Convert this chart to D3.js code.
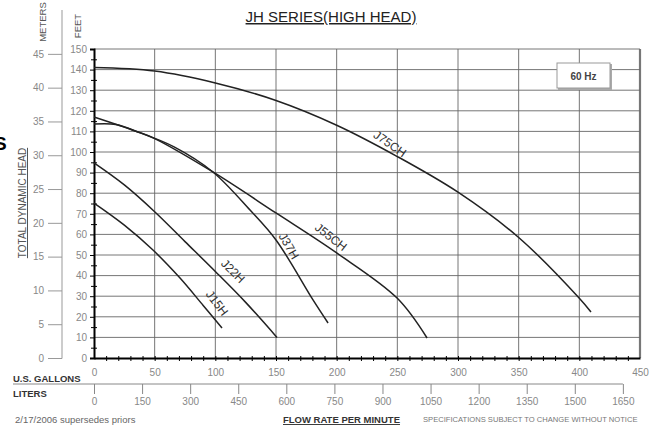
<!DOCTYPE html>
<html>
  <head>
    <meta charset="utf-8">
    <title>JH SERIES</title>
    <script src="https://d3js.org/d3.v7.min.js"></script>
    <style>
      body { margin:0; background:#fff; }
      text { font-family: Arial, "Liberation Sans", sans-serif; }
    </style>
  </head>
  <body>
  <script type="text/javascript">
  // pump curves, flow in US gallons/min, head in feet
  var j75ch = [[0,141],[50,139.3],[100,133.5],[150,125],[200,113],[250,97.8],[300,80.5],[350,58.5],[400,29],[409.6,22.3]];
  var j55ch = [[0,117],[34,110.2],[50,106.5],[98,90.3],[150,70.4],[200,51],[250,29],[274.5,9.7]];
  var j37h  = [[0,113.6],[18,113.4],[34,110.2],[66,102.5],[98,90.3],[128.6,71.8],[150,57.3],[180.5,28.2],[192.9,17]];
  var j22h  = [[0,94.7],[25,84],[50,71],[75,56.5],[100,42],[125,27],[150.8,10]];
  var j15h  = [[0,75.2],[25,64.5],[48.6,52.4],[70.9,38.8],[90,25.5],[105.5,14.6]];

  var curveNames = ['J75CH','J55CH','J37H','J22H','J15H'];
  // label centre (gallons, feet) and rotation
  var labelPos = [[244,104,35],[195.3,58.7,38],[160.7,54.4,60],[114.6,42.2,45],[101.4,26.7,53]];

  var feetTicks   = [0,10,20,30,40,50,60,70,80,90,100,110,120,130,140,150];
  var meterTicks  = [0,5,10,15,20,25,30,35,40,45];
  var gallonTicks = [0,50,100,150,200,250,300,350,400,450];
  var literTicks  = [0,150,300,450,600,750,900,1050,1200,1350,1500,1650];

  var svg = d3.select('body').append('svg')
              .attr('width',656)
              .attr('height',429)

  var x  = d3.scaleLinear().domain([0,450]).range([94,640]);
  var y  = d3.scaleLinear().domain([0,150]).range([358,49]);
  var ym = d3.scaleLinear().domain([0,150/3.2808]).range([358,49]);
  var xl = d3.scaleLinear().domain([0,450*3.7854]).range([94,640]);

  /* grid */
  svg.append('g').selectAll('line').data(gallonTicks.slice(1)).enter().append('line')
     .attr('x1',d=>x(d)).attr('x2',d=>x(d)).attr('y1',y(0)).attr('y2',y(150))
     .attr('stroke',d=>d==450?'#777':'#666').attr('stroke-width',d=>d==450?2.2:0.9)
  svg.append('g').selectAll('line').data(feetTicks.slice(1)).enter().append('line')
     .attr('x1',x(0)).attr('x2',x(450)).attr('y1',d=>y(d)).attr('y2',d=>y(d))
     .attr('stroke','#666').attr('stroke-width',0.9)

  /* feet axis */
  var fa = svg.append('g').attr('transform','translate('+x(0)+',0)')
     .call(d3.axisLeft(y).tickValues(feetTicks).tickSize(4).tickPadding(3))
  fa.select('.domain').attr('stroke','#000').attr('stroke-width',2)
  fa.selectAll('text').attr('fill','#888').style('font-size','10px')
  svg.append('g').attr('transform','translate('+x(0)+',0)')
     .call(d3.axisRight(y).tickValues(d3.range(5,150,10)).tickSize(3).tickFormat(''))
     .call(g=>g.select('.domain').remove())
  svg.append('g').attr('transform','translate('+x(0)+',0)')
     .call(d3.axisLeft(y).tickValues(d3.range(5,150,10)).tickSize(3).tickFormat(''))
     .call(g=>g.select('.domain').remove())

  /* gallons axis */
  var ga = svg.append('g').attr('transform','translate(0,'+y(0)+')')
     .call(d3.axisBottom(x).tickValues(gallonTicks).tickSize(0).tickPadding(11))
  ga.select('.domain').attr('stroke','#000').attr('stroke-width',2)
  ga.selectAll('text').attr('fill','#888').style('font-size','10px')
  svg.append('g').attr('transform','translate(0,'+y(0)+')')
     .call(d3.axisBottom(x).tickValues(d3.range(10,450,10)).tickSize(3).tickFormat(''))
     .call(g=>g.select('.domain').remove())
  svg.append('g').attr('transform','translate(0,'+y(0)+')')
     .call(d3.axisTop(x).tickValues(d3.range(10,450,10)).tickSize(2).tickFormat(''))
     .call(g=>g.select('.domain').remove())

  /* meters axis */
  var ma = svg.append('g').attr('transform','translate(62,0)')
     .call(d3.axisLeft(ym).tickValues(meterTicks).tickSize(14).tickPadding(4))
  ma.select('.domain').remove()
  ma.selectAll('line').attr('stroke','#999')
  ma.selectAll('text').attr('fill','#888').style('font-size','10px')
  svg.append('line').attr('x1',62).attr('x2',62).attr('y1',10).attr('y2',ym(0)+0.5)
     .attr('stroke','#999')

  /* liters axis */
  var la = svg.append('g').attr('transform','translate(0,384)')
     .call(d3.axisBottom(xl).tickValues(literTicks).tickFormat(d3.format('d')).tickSize(10).tickPadding(4))
  la.select('.domain').remove()
  la.selectAll('line').attr('stroke','#888')
  la.selectAll('text').attr('fill','#888').style('font-size','10px')
  svg.append('line').attr('x1',13).attr('x2',xl(1650)).attr('y1',384).attr('y2',384)
     .attr('stroke','#888')

  /* curves */
  var line = d3.line().x(d=>x(d[0])).y(d=>y(d[1])).curve(d3.curveCatmullRom.alpha(0.5))
  var curves = [j75ch,j55ch,j37h,j22h,j15h]
  svg.append('g').selectAll('path').data(curves).enter().append('path')
     .attr('d',line).attr('fill','none').attr('stroke','#222').attr('stroke-width',1.5)

  svg.append('g').selectAll('text').data(labelPos).enter().append('text')
     .attr('transform',d=>'translate('+x(d[0])+','+y(d[1])+') rotate('+d[2]+')')
     .attr('text-anchor','middle').attr('dy','0.35em')
     .attr('fill','#333').style('font-size','12px')
     .text((d,i)=>curveNames[i])

  /* 60 Hz box */
  svg.append('rect').attr('x',558).attr('y',64).attr('width',54).attr('height',26).attr('fill','#aaa')
  svg.append('rect').attr('x',557).attr('y',63).attr('width',53).attr('height',25)
     .attr('fill','#fff').attr('stroke','#999')
  svg.append('text').attr('x',583.5).attr('y',79.5).attr('text-anchor','middle')
     .attr('fill','#444').style('font-size','10px').style('font-weight','bold').text('60 Hz')

  /* texts */
  svg.append('text').attr('x',331).attr('y',22).attr('text-anchor','middle')
     .attr('fill','#222').style('font-size','15px').style('text-decoration','underline')
     .text('JH SERIES(HIGH HEAD)')
  svg.append('text').attr('transform','translate(46,22) rotate(-90)').attr('text-anchor','middle')
     .attr('fill','#555').style('font-size','9.5px').text('METERS')
  svg.append('text').attr('transform','translate(81,26) rotate(-90)').attr('text-anchor','middle')
     .attr('fill','#555').style('font-size','9.5px').text('FEET')
  svg.append('text').attr('transform','translate(26,203) rotate(-90)').attr('text-anchor','middle')
     .attr('fill','#555').style('font-size','10px').style('text-decoration','underline')
     .text('TOTAL DYNAMIC HEAD')
  svg.append('text').attr('x',-6).attr('y',150).attr('fill','#000')
     .style('font-size','19px').style('font-weight','bold').text('S')
  svg.append('text').attr('x',13).attr('y',382).attr('fill','#333')
     .style('font-size','9.5px').style('font-weight','bold').text('U.S. GALLONS')
  svg.append('text').attr('x',13).attr('y',397).attr('fill','#333')
     .style('font-size','9.5px').style('font-weight','bold').text('LITERS')
  svg.append('text').attr('x',15).attr('y',423).attr('fill','#666')
     .style('font-size','9.5px').text('2/17/2006 supersedes priors')
  svg.append('text').attr('x',283).attr('y',423).attr('fill','#333')
     .style('font-size','9.5px').style('font-weight','bold').style('text-decoration','underline')
     .text('FLOW RATE PER MINUTE')
  svg.append('text').attr('x',423).attr('y',422).attr('fill','#777')
     .style('font-size','7.6px').text('SPECIFICATIONS SUBJECT TO CHANGE WITHOUT NOTICE')
  </script>
  </body>
</html>
